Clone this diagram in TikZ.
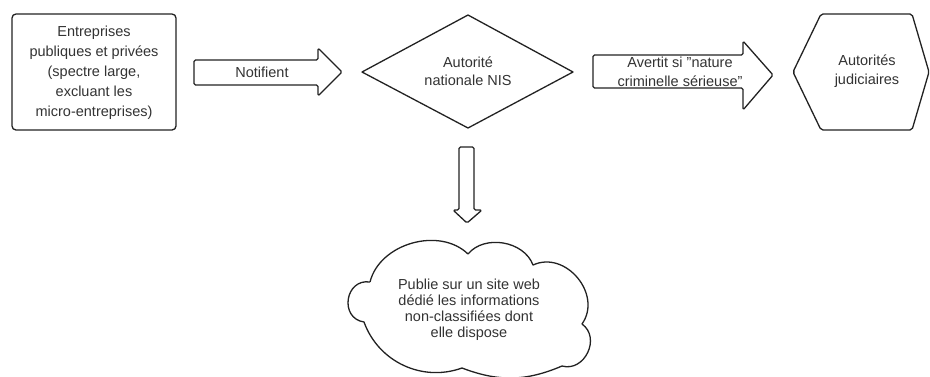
\documentclass[tikz,border=0pt]{standalone}
\usepackage{fontspec}
\setmainfont{Liberation Sans}
\definecolor{ink}{HTML}{222222}
\definecolor{txt}{HTML}{333333}
\tikzset{
  outline/.style={draw=ink, line width=1.3pt, line join=round, fill=white},
  blockarrow/.style={outline, rounded corners=1.5pt},
  lbl/.style={align=center, text=txt, inner sep=0pt, font=\fontsize{14.5}{18.5}\selectfont},
  cloudlbl/.style={lbl, font=\fontsize{14.5}{16}\selectfont},
}
\begin{document}
\begin{tikzpicture}[x=1pt,y=-1pt]
\useasboundingbox (0,0) rectangle (930,376);
% box
\draw[outline, rounded corners=4pt] (12,14) rectangle (176,130);
\node[lbl, font=\fontsize{14.5}{20}\selectfont] (ent) at (94,73) {Entreprises\\publiques et privées\\(spectre large,\\excluant les\\micro-entreprises)};
% notifient arrow
\draw[blockarrow] (194,60) -- (318,60) -- (318,48) -- (342,72) -- (318,96) -- (318,85) -- (194,85) -- cycle;
\node[lbl] (notif) at (262,72) {Notifient};
% diamond
\draw[outline] (362,72) -- (468,15) -- (573,72) -- (468,128) -- cycle;
\node[lbl] (nis) at (468,71) {Autorité\\nationale NIS};
% avertit arrow
\draw[blockarrow] (593,55) -- (743,55) -- (743,41) -- (773,75) -- (743,110) -- (743,88) -- (593,88) -- cycle;
\node[lbl, font=\fontsize{14.5}{19}\selectfont] (avert) at (680,72) {Avertit si \char34nature\\criminelle sérieuse\char34};
% hexagon
\draw[outline, rounded corners=2pt] (793,72) -- (821,14) -- (912,14) -- (929,72) -- (912,130) -- (821,130) -- cycle;
\node[lbl] (jud) at (867,71) {Autorités\\judiciaires};
% down arrow
\draw[blockarrow] (459,147) -- (474,147) -- (474,210) -- (482,210) -- (467,223) -- (453,210) -- (459,210) -- cycle;
% cloud
\coordinate (c1) at (468,254);
\coordinate (c2) at (533,265);
\coordinate (c3) at (582,324);
\coordinate (c4) at (562,366);
\coordinate (c5) at (462,368);
\coordinate (c7) at (364,322);
\coordinate (c8) at (370,282);
\draw[outline] (c8) to[bend left=60] (c1) to[bend left=60] (c2) to[bend left=75, looseness=1.2] (c3)
  to[bend left=80, looseness=1.3] (c4) to[bend left=22] (c5) to[bend left=45] (c7)
  to[bend left=90, looseness=1.6] (c8);
\node[cloudlbl] (pub) at (469,310) {Publie sur un site web\\dédié les informations\\non-classifiées dont\\elle dispose};
\end{tikzpicture}
\end{document}
